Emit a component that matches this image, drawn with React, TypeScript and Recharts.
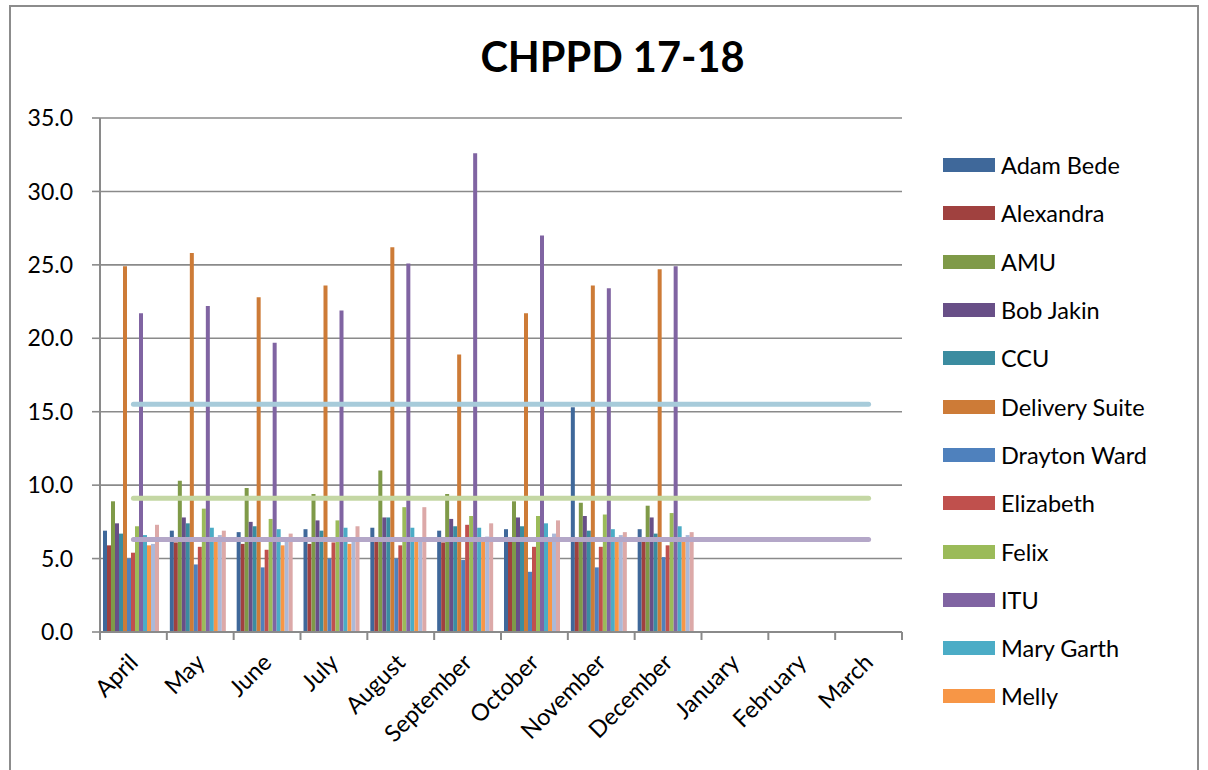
import { ComposedChart, Bar, Line, XAxis, YAxis, CartesianGrid } from "recharts";

const months = [
  "April", "May", "June", "July", "August", "September",
  "October", "November", "December", "January", "February", "March",
];

const wards = [
  "Adam Bede", "Alexandra", "AMU", "Bob Jakin", "CCU", "Delivery Suite",
  "Drayton Ward", "Elizabeth", "Felix", "ITU", "Mary Garth", "Melly",
  "Ward 13", "Ward 14",
];

const wardColors = [
  "#3F689A", "#A0413F", "#7F9A48", "#684F87", "#3B8CA0", "#CD7B37",
  "#4F81BD", "#C0504D", "#9BBB59", "#8064A2", "#4BACC6", "#F79646",
  "#ABB9D9", "#DCA9A8",
];

// April .. December, nothing yet for Jan-Mar
const adamBede = [6.9, 6.9, 6.8, 7.0, 7.1, 6.9, 7.0, 15.3, 7.0];
const alexandra = [5.9, 6.1, 6.0, 6.0, 6.2, 6.1, 6.2, 6.2, 6.2];
const amu = [8.9, 10.3, 9.8, 9.4, 11.0, 9.4, 8.9, 8.8, 8.6];
const bobJakin = [7.4, 7.8, 7.5, 7.6, 7.8, 7.7, 7.8, 7.9, 7.8];
const ccu = [6.7, 7.4, 7.2, 6.9, 7.8, 7.2, 7.2, 6.9, 6.7];
const deliverySuite = [24.9, 25.8, 22.8, 23.6, 26.2, 18.9, 21.7, 23.6, 24.7];
const draytonWard = [5.0, 4.6, 4.4, 5.0, 5.0, 4.9, 4.1, 4.4, 5.1];
const elizabeth = [5.4, 5.8, 5.6, 6.1, 5.9, 7.3, 5.8, 5.8, 5.9];
const felix = [7.2, 8.4, 7.7, 7.6, 8.5, 7.9, 7.9, 8.0, 8.1];
const itu = [21.7, 22.2, 19.7, 21.9, 25.1, 32.6, 27.0, 23.4, 24.9];
const maryGarth = [6.6, 7.1, 7.0, 7.1, 7.1, 7.1, 7.4, 7.0, 7.2];
const melly = [5.9, 6.3, 5.9, 6.0, 6.3, 6.3, 6.3, 6.3, 6.3];
const ward13 = [6.0, 6.6, 6.3, 6.3, 6.3, 6.5, 6.7, 6.6, 6.6];
const ward14 = [7.3, 6.9, 6.7, 7.2, 8.5, 7.4, 7.6, 6.8, 6.8];

const wardValues = [
  adamBede, alexandra, amu, bobJakin, ccu, deliverySuite,
  draytonWard, elizabeth, felix, itu, maryGarth, melly, ward13, ward14,
];

// flat reference lines across the year
const lineHigh = [15.5, 15.5, 15.5, 15.5, 15.5, 15.5, 15.5, 15.5, 15.5, 15.5, 15.5, 15.5];
const lineMid = [9.1, 9.1, 9.1, 9.1, 9.1, 9.1, 9.1, 9.1, 9.1, 9.1, 9.1, 9.1];
const lineLow = [6.3, 6.3, 6.3, 6.3, 6.3, 6.3, 6.3, 6.3, 6.3, 6.3, 6.3, 6.3];

const yTicks = [0, 5, 10, 15, 20, 25, 30, 35];

const data = months.map((m, i) => {
  const row: Record<string, string | number | null> = { month: m };
  wards.forEach((w, k) => {
    const v = wardValues[k][i];
    row[w] = v === undefined ? null : v;
  });
  row.lineHigh = lineHigh[i];
  row.lineMid = lineMid[i];
  row.lineLow = lineLow[i];
  return row;
});

const FONT = "Lato, 'Noto Sans', sans-serif";
const AXIS = "#8A8A8A";
const PLOT_LEFT = 100;
const PLOT_RIGHT = 902;
const BAND = (PLOT_RIGHT - PLOT_LEFT) / months.length;

function MonthTick(props: any) {
  const { x, y, payload, index } = props;
  const half = BAND / 2;
  const ax = x + 6;
  const ay = y + 32;
  return (
    <g>
      <line x1={x - half} x2={x - half} y1={y} y2={y + 8} stroke={AXIS} strokeWidth={2} />
      {index === months.length - 1 && (
        <line x1={x + half} x2={x + half} y1={y} y2={y + 8} stroke={AXIS} strokeWidth={2} />
      )}
      <text
        x={ax}
        y={ay}
        transform={`rotate(-45, ${ax}, ${ay})`}
        textAnchor="end"
        fontFamily={FONT}
        fontSize={23.5}
        fill="#000"
      >
        {payload.value}
      </text>
    </g>
  );
}

export default function App() {
  return (
    <div
      style={{
        position: "absolute",
        left: 0,
        top: 0,
        width: 1208,
        height: 770,
        overflow: "hidden",
        background: "#fff",
      }}
    >
      <div
        style={{
          position: "absolute",
          left: 9,
          top: 5,
          width: 1186,
          height: 800,
          border: "2px solid #8C8C8C",
        }}
      />
      <div
        style={{
          position: "absolute",
          left: 0,
          width: 1225,
          top: 31,
          textAlign: "center",
          fontFamily: FONT,
          fontWeight: 700,
          fontSize: 41.5,
          color: "#000",
        }}
      >
        CHPPD 17-18
      </div>
      <div style={{ position: "absolute", left: 0, top: 0 }}>
        <ComposedChart
          width={1208}
          height={770}
          data={data}
          margin={{ top: 118, right: 1208 - PLOT_RIGHT, bottom: 0, left: 0 }}
          barCategoryGap={3}
          barGap={0}
        >
          <CartesianGrid vertical={false} stroke={AXIS} strokeWidth={1.6} />
          <XAxis
            dataKey="month"
            height={138}
            axisLine={{ stroke: AXIS, strokeWidth: 2 }}
            tickLine={false}
            tickSize={0}
            tickMargin={0}
            interval={0}
            tick={<MonthTick />}
          />
          <YAxis
            width={PLOT_LEFT}
            domain={[0, 35]}
            ticks={yTicks}
            interval={0}
            axisLine={{ stroke: AXIS, strokeWidth: 2 }}
            tickLine={{ stroke: AXIS, strokeWidth: 1.6 }}
            tickSize={8}
            tickMargin={19}
            tickFormatter={(v: number) => v.toFixed(1)}
            tick={{ fontFamily: FONT, fontSize: 23, fill: "#000" }}
          />
          {wards.map((w, k) => (
            <Bar key={w} dataKey={w} fill={wardColors[k]} isAnimationActive={false} />
          ))}
          <Line dataKey="lineHigh" stroke="#A7CBDA" strokeWidth={5} strokeLinecap="round" dot={false} isAnimationActive={false} />
          <Line dataKey="lineMid" stroke="#C4D7A4" strokeWidth={5} strokeLinecap="round" dot={false} isAnimationActive={false} />
          <Line dataKey="lineLow" stroke="#B4A7C8" strokeWidth={5} strokeLinecap="round" dot={false} isAnimationActive={false} />
        </ComposedChart>
      </div>
      <div style={{ position: "absolute", left: 943, top: 141 }}>
        {wards.slice(0, 12).map((w, k) => (
          <div
            key={w}
            style={{ display: "flex", alignItems: "center", height: 48.3 }}
          >
            <div style={{ width: 52, height: 14, background: wardColors[k] }} />
            <span
              style={{
                marginLeft: 6,
                fontFamily: FONT,
                fontSize: 23.5,
                color: "#000",
                whiteSpace: "nowrap",
              }}
            >
              {w}
            </span>
          </div>
        ))}
      </div>
    </div>
  );
}
